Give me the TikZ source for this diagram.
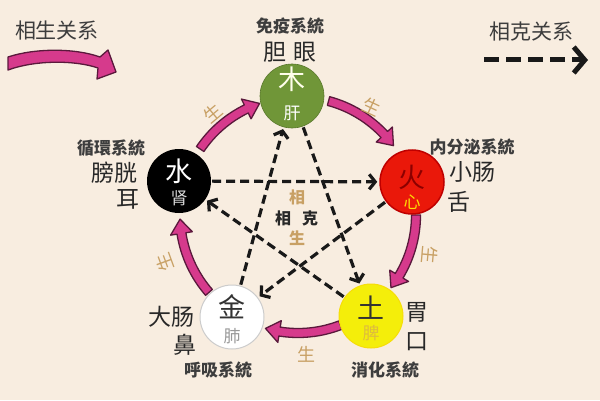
\documentclass[tikz,border=0pt]{standalone}
\usepackage{fontspec}
\setmainfont{Noto Sans CJK SC}
\usetikzlibrary{arrows.meta,calc}
\definecolor{bgc}{RGB}{248,237,224}
\definecolor{pinkc}{RGB}{214,58,140}
\definecolor{pinkline}{RGB}{90,25,60}
\definecolor{tanc}{RGB}{200,160,100}
\definecolor{greenc}{RGB}{112,150,56}
\definecolor{redc}{RGB}{234,24,10}
\definecolor{yellowc}{RGB}{244,238,10}
\definecolor{txtc}{RGB}{40,40,40}
\definecolor{dashc}{RGB}{25,25,25}
\begin{document}
\begin{tikzpicture}[x=1pt,y=1pt,
  elem/.style={circle, minimum size=64pt, inner sep=0pt},
  bigch/.style={font=\fontsize{27}{29}\selectfont},
  smallch/.style={font=\fontsize{17}{19}\selectfont},
  organ/.style={font=\fontsize{23}{25}\selectfont, text=txtc},
  sys/.style={font=\fontsize{17}{19}\selectfont\bfseries, text=txtc!90},
  legend/.style={font=\fontsize{21}{23}\selectfont, text=txtc!90},
  shenglbl/.style={font=\fontsize{18}{20}\selectfont, text=tanc},
  centerlbl/.style={font=\fontsize{16}{18}\selectfont\bfseries},
  kedash/.style={draw=dashc, line width=3.2pt, dash pattern=on 9pt off 5pt,
    -{Straight Barb[length=6pt,width=15pt]}, shorten >=2pt, shorten <=1pt},
  arrowfill/.style={fill=pinkc, draw=pinkline, line width=1.3pt, line join=round},
]
\fill[bgc] (0,0) rectangle (600,400);
\useasboundingbox (0,0) rectangle (600,400);

% legend
\node[legend] (lg1) at (57,369) {相生关系};
\filldraw[arrowfill] (8,343) .. controls (35,352) and (75,352) .. (100,343)
  -- (108,350) -- (116,328) -- (97,321) -- (98,332)
  .. controls (75,340) and (35,340) .. (8,330) -- cycle;
\node[legend] (lg2) at (531,368) {相克关系};
\coordinate (ls) at (484,340);
\coordinate (le) at (588,340);
\draw[draw=dashc, line width=5pt, dash pattern=on 15pt off 7pt,
  -{Straight Barb[length=11pt,width=26pt]}] (ls) -- (le);

% generating cycle arcs
\coordinate (C) at (298,185);
\foreach \s/\e in {75/36, 0/-38, -69/-106, -139/-178, 146/109} {
  \pgfmathsetmacro\hb{\e+7}
  \filldraw[arrowfill] ($(C)+(\s:122.5)$) arc[start angle=\s, end angle=\hb, radius=122.5]
    -- ($(C)+(\hb:129)$) -- ($(C)+(\e:118)$) -- ($(C)+(\hb:107)$)
    -- ($(C)+(\hb:113.5)$) arc[start angle=\hb, end angle=\s, radius=113.5] -- cycle;
}

% elements
\node[elem, fill=greenc, draw=greenc!80!black, line width=0.6pt] (mu) at (292,304) {};
\node[elem, fill=black] (shui) at (179,219) {};
\node[elem, fill=redc, draw=red!75!black, line width=1.5pt] (huo) at (412,218) {};
\node[elem, fill=white, draw=black!20, line width=1pt] (jin) at (232,83) {};
\node[elem, fill=yellowc, draw=yellowc!85!orange, line width=1pt] (tu) at (371,84) {};

\node[bigch, text=white!92!yellow] (mu1) at ($(mu)+(0,17)$) {木};
\node[smallch, text=white] (mu2) at ($(mu)+(0,-17)$) {肝};
\node[bigch, text=white] (shui1) at ($(shui)+(0,10)$) {水};
\node[smallch, text=white!85!black] (shui2) at ($(shui)+(0,-17)$) {肾};
\node[bigch, text=red!55!black] (huo1) at ($(huo)+(0,5)$) {火};
\node[smallch, text=yellow!80!orange] (huo2) at ($(huo)+(0,-20)$) {心};
\node[bigch, text=black!80] (jin1) at ($(jin)+(0,10)$) {金};
\node[smallch, text=black!40] (jin2) at ($(jin)+(0,-19)$) {肺};
\node[bigch, text=black!80] (tu1) at ($(tu)+(0,8)$) {土};
\node[smallch, text=yellow!45!brown] (tu2) at ($(tu)+(0,-17)$) {脾};

% overcoming (dashed) arrows
\draw[kedash] (shui) -- (huo);
\draw[kedash] (mu) -- (tu);
\draw[kedash] (tu) -- (shui);
\draw[kedash] (huo) -- (jin);
\draw[kedash] (jin) -- (mu);

% centre text
\node[centerlbl, text=tanc] (c1) at (297,203) {相};
\node[centerlbl, text=txtc] (c2) at (283,182) {相};
\node[centerlbl, text=txtc] (c3) at (310,182) {克};
\node[centerlbl, text=tanc] (c4) at (297,162) {生};

% sheng labels
\node[shenglbl, rotate=40] (s1) at (213,287) {生};
\node[shenglbl, rotate=-25] (s2) at (372,293) {生};
\node[shenglbl, rotate=-95] (s3) at (430,145) {生};
\node[shenglbl] (s4) at (306,46) {生};
\node[shenglbl, rotate=110] (s5) at (165,138) {生};

% organ / system labels
\node[sys] (t1) at (290,374) {免疫系統};
\node[organ] (t2) at (290,348) {胆\,\,眼};
\node[sys] (t3) at (111,252) {循環系統};
\node[organ] (t4) at (114,227) {膀胱};
\node[organ] (t5) at (128,201) {耳};
\node[sys] (t6) at (472,253) {内分泌系統};
\node[organ] (t7) at (472,228) {小肠};
\node[organ] (t8) at (459,198) {舌};
\node[organ] (t9) at (171,83) {大肠};
\node[organ] (t10) at (185,55) {鼻};
\node[sys] (t11) at (218,30) {呼吸系統};
\node[organ] (t12) at (417,88) {胃};
\node[organ] (t13) at (417,58) {口};
\node[sys] (t14) at (385,30) {消化系統};
\end{tikzpicture}
\end{document}
